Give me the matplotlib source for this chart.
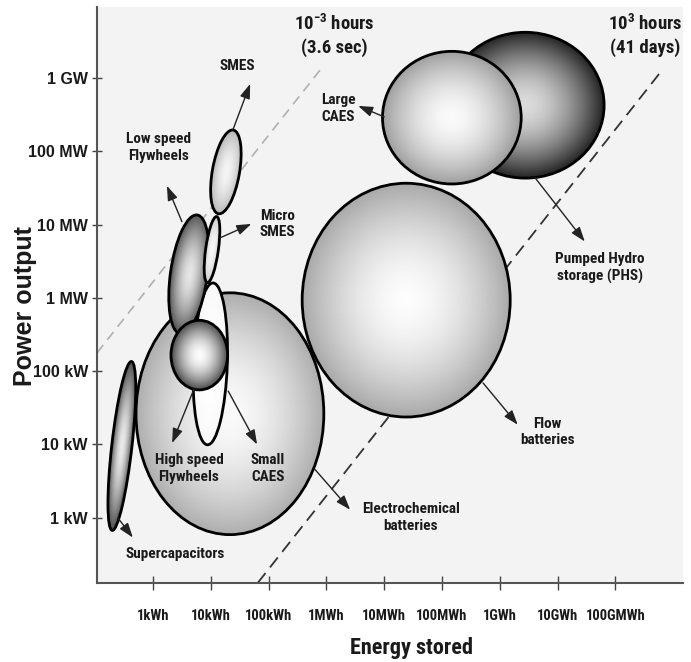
import numpy as np
import matplotlib
matplotlib.use("Agg")
import matplotlib.pyplot as plt
from matplotlib import font_manager
from matplotlib.patches import Ellipse
from matplotlib.transforms import Affine2D

# storage technologies, as log10 of energy (kWh) and power (kW)
tech = ["Electrochemical batteries", "Flow batteries", "Pumped Hydro storage (PHS)",
        "Large CAES", "Supercapacitors", "Small CAES", "Low speed Flywheels",
        "Micro SMES", "SMES", "High speed Flywheels"]
log_energy = [1.33, 4.38, 6.44, 5.17, -0.54, 0.99, 0.62, 1.02, 1.26, 0.80]
log_power = [1.42, 2.97, 5.63, 5.46, 0.98, 2.10, 3.32, 3.66, 4.72, 2.22]
energy_span = [3.25, 3.60, 2.73, 2.40, 0.35, 0.59, 0.64, 0.22, 0.47, 0.98]
power_span = [3.30, 3.19, 1.99, 1.81, 2.32, 2.21, 1.64, 0.91, 1.16, 0.95]
tilt = [0, 0, 0, 0, -6.5, -2, -8, -8, -10, 0]

# discharge-time guide lines (y = x + offset, in decades)
line_labels = ["10$^{-3}$ hours\n(3.6 sec)", "10$^{3}$ hours\n(41 days)"]
line_offsets = [3.22, -2.7]

x_ticks = [0, 1, 2, 3, 4, 5, 6, 7, 8]
x_ticklabels = ["1kWh", "10kWh", "100kWh", "1MWh", "10MWh", "100MWh",
                "1GWh", "10GWh", "100GMWh"]
y_ticks = [0, 1, 2, 3, 4, 5, 6]
y_ticklabels = ["1 kW", "10 kW", "100 kW", "1 MW", "10 MW", "100 MW", "1 GW"]

# shading: (centre grey, edge grey, zorder)
shade = {
    "Electrochemical batteries": (0.98, 0.68, 2),
    "Flow batteries": (0.99, 0.66, 2),
    "Pumped Hydro storage (PHS)": (0.86, 0.14, 2),
    "Large CAES": (0.98, 0.62, 3),
    "Supercapacitors": (0.92, 0.30, 3),
    "Small CAES": (1.0, 0.97, 4),
    "Low speed Flywheels": (0.90, 0.32, 5),
    "Micro SMES": (0.97, 0.80, 6),
    "SMES": (0.96, 0.72, 6),
    "High speed Flywheels": (0.99, 0.28, 7),
}

# label text position, arrow start, arrow end (data units)
labels = [
    ("SMES", (1.45, 6.17), (1.38, 5.29), (1.68, 5.92)),
    ("Low speed\nFlywheels", (0.09, 5.05), (0.50, 4.04), (0.24, 4.53)),
    ("Micro\nSMES", (2.15, 4.01), (1.16, 3.82), (1.70, 4.01)),
    ("Large\nCAES", (3.20, 5.59), (4.00, 5.47), (3.55, 5.62)),
    ("Pumped Hydro\nstorage (PHS)", (7.73, 3.41), (6.61, 4.64), (7.47, 3.77)),
    ("Flow\nbatteries", (6.82, 1.17), (5.71, 1.84), (6.31, 1.27)),
    ("Electrochemical\nbatteries", (4.46, 0.0), (2.79, 0.67), (3.41, 0.11)),
    ("Supercapacitors", (0.38, -0.50), (-0.61, 0.0), (-0.35, -0.27)),
    ("High speed\nFlywheels", (0.62, 0.67), (0.71, 1.76), (0.33, 1.02)),
    ("Small\nCAES", (1.99, 0.67), (1.30, 1.73), (1.80, 1.00)),
]
line_label_pos = [(3.13, 6.58), (8.51, 6.58)]

installed = {f.name for f in font_manager.fontManager.ttflist}
NARROW = next(n for n in ["Liberation Sans Narrow", "Roboto Condensed",
                          "Archivo Narrow", "Liberation Sans"] if n in installed)
plt.rcParams["mathtext.default"] = "regular"

W, H = 691, 662
XLIM = (-0.97, 9.17)
YLIM = (-0.89, 6.97)
box = [97 / W, (H - 583) / H, (683 - 97) / W, (583 - 7) / H]

fig = plt.figure(figsize=(W / 100, H / 100), dpi=100)
ax = fig.add_axes(box)
ax.set_facecolor("#f3f3f3")

# pixels per decade on each axis, so tilted ellipses keep their visual shape
ppx = box[2] * W / (XLIM[1] - XLIM[0])
ppy = box[3] * H / (YLIM[1] - YLIM[0])
k = ppy / ppx


def shaded_ellipse(cx, cy, w, h, ang, c_mid, c_edge, z):
    a, b = w / 2, h * k / 2
    th = np.radians(ang)
    tr = Affine2D().scale(1, 1 / k).translate(cx, cy) + ax.transData
    edge = Ellipse((0, 0), 2 * a, 2 * b, angle=ang, transform=tr,
                   fc="none", ec="black", lw=2.0, zorder=z + 0.5)
    ax.add_patch(edge)
    ex = np.sqrt((a * np.cos(th)) ** 2 + (b * np.sin(th)) ** 2)
    ey = np.sqrt((a * np.sin(th)) ** 2 + (b * np.cos(th)) ** 2) / k
    xs = np.linspace(cx - ex, cx + ex, 300)
    ys = np.linspace(cy - ey, cy + ey, 300)
    X, Y = np.meshgrid(xs, ys)
    u = X - cx
    v = (Y - cy) * k
    up = u * np.cos(th) + v * np.sin(th)
    vp = -u * np.sin(th) + v * np.cos(th)
    r = np.clip(np.sqrt((up / a) ** 2 + (vp / b) ** 2), 0, 1.2)
    val = c_mid + (c_edge - c_mid) * r ** 1.7
    im = ax.imshow(val, cmap="gray", vmin=0, vmax=1, origin="lower",
                   extent=(cx - ex, cx + ex, cy - ey, cy + ey),
                   interpolation="bilinear", aspect="auto", zorder=z)
    im.set_clip_path(edge)


for i, name in enumerate(tech):
    c_mid, c_edge, z = shade[name]
    shaded_ellipse(log_energy[i], log_power[i], energy_span[i], power_span[i],
                   tilt[i], c_mid, c_edge, z)

# duration guide lines
y_top = 6.12
x0 = max(XLIM[0], YLIM[0] - line_offsets[0])
ax.plot([x0, y_top - line_offsets[0]], [x0 + line_offsets[0], y_top],
        color="#b0b0b0", lw=1.2, dashes=(6, 4), zorder=1)
x0 = max(XLIM[0], YLIM[0] - line_offsets[1])
ax.plot([x0, y_top - line_offsets[1]], [x0 + line_offsets[1], y_top],
        color="#333333", lw=1.3, dashes=(7, 4), zorder=1)

for txt, pos in zip(line_labels, line_label_pos):
    ax.text(pos[0], pos[1], txt, ha="center", va="center", fontsize=13.5,
            family=NARROW, weight="bold", color="#1a1a1a", linespacing=1.3,
            zorder=9)

for txt, tpos, start, end in labels:
    ax.annotate("", xy=end, xytext=start,
                arrowprops=dict(arrowstyle="-|>,head_length=0.8,head_width=0.28",
                                lw=1.0, color="#222222", mutation_scale=11,
                                shrinkA=0, shrinkB=0),
                zorder=8)
    ax.text(tpos[0], tpos[1], txt, ha="center", va="center", fontsize=11,
            family=NARROW, weight="bold", color="#1a1a1a", linespacing=1.25,
            zorder=9)

ax.set_xlim(*XLIM)
ax.set_ylim(*YLIM)
ax.set_xticks(x_ticks)
ax.set_xticklabels(x_ticklabels, family=NARROW, weight="bold", fontsize=10.5,
                   color="#1a1a1a")
ax.set_yticks(y_ticks)
ax.set_yticklabels(y_ticklabels, family="Liberation Sans", weight="bold",
                   fontsize=11.5, color="#1a1a1a")
ax.tick_params(axis="x", direction="inout", length=10, width=1, color="#444444",
               pad=14)
ax.tick_params(axis="y", direction="inout", length=7, width=1, color="#444444",
               pad=3)
for side in ("top", "right"):
    ax.spines[side].set_visible(False)
for side in ("left", "bottom"):
    ax.spines[side].set_color("#555555")
    ax.spines[side].set_linewidth(1.5)

fig.text(25 / W, 1 - 306 / H, "Power output", rotation=90, ha="center",
         va="center", fontsize=18, family="Liberation Sans", weight="bold",
         color="#1a1a1a")
fig.text(411 / W, 1 - 648 / H, "Energy stored", ha="center", va="center",
         fontsize=16, family=NARROW, weight="bold", color="#1a1a1a")

fig.savefig("out.png", dpi=100)
